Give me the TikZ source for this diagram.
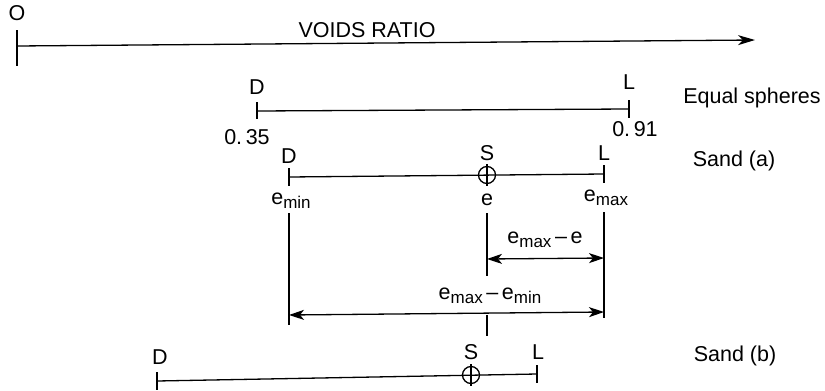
\documentclass[tikz,border=0pt]{standalone}
\usepackage{fontspec}
\setmainfont{Liberation Sans}
\usetikzlibrary{arrows.meta}
\newcommand{\lowsub}[1]{\raisebox{-0.35ex}{\fontsize{17}{19}\selectfont #1}}
\tikzset{
  lbl/.style={inner sep=0pt, font=\fontsize{21.5}{25}\selectfont},
  ln/.style={line width=1.3pt},
  dim/.style={line width=1.3pt, {Stealth[length=15pt,width=10pt,inset=4pt]}-{Stealth[length=15pt,width=10pt,inset=4pt]}},
}
\begin{document}
\begin{tikzpicture}[x=1pt,y=-1pt]
\useasboundingbox (0,0) rectangle (825,391);
% main axis
\coordinate (o) at (17,46);
\coordinate (oend) at (755,40);
\node[lbl] (O) at (17,13) {O};
\node[lbl] (vr) at (367,30) {VOIDS RATIO};
\draw[ln] (17,30) -- (17,66);
\draw[ln,-{Stealth[length=17pt,width=10pt,inset=5pt]}] (o) -- (oend);
% Equal spheres
\coordinate (esD) at (257,111);
\coordinate (esL) at (629,109);
\draw[ln] (esD) -- (esL);
\draw[ln] (257,102) -- (257,119);
\draw[ln] (629,100) -- (629,118);
\node[lbl] (esDl) at (257,87) {D};
\node[lbl] (esLl) at (629,82) {L};
\node[lbl] (es) at (752,98) {Equal spheres};
\node[lbl] (v35) at (247,137) {0.\,35};
\node[lbl] (v91) at (635,129) {0.\,91};
% Sand (a)
\coordinate (aD) at (289,177);
\coordinate (aS) at (487,175);
\coordinate (aL) at (604,174);
\draw[ln] (aD) -- (aL);
\draw[ln] (289,168) -- (289,186);
\draw[ln] (604,165) -- (604,183);
\draw[ln] (aS) circle (8.5);
\draw[ln] (487,164) -- (487,186);
\node[lbl] (aDl) at (289,156) {D};
\node[lbl] (aSl) at (487,153) {S};
\node[lbl] (aLl) at (604,153) {L};
\node[lbl] (sa) at (734,161) {Sand (a)};
\node[lbl] (emin) at (291,201) {e\lowsub{min}};
\node[lbl] (e) at (487,200) {e};
\node[lbl] (emax) at (606,198) {e\lowsub{max}};
% vertical lines
\draw[ln] (289,213) -- (289,325);
\draw[ln] (487,213) -- (487,276);
\draw[ln] (604,212) -- (604,318);
\coordinate (d1l) at (487,259);
\coordinate (d1r) at (604,258);
\draw[dim] (d1l) -- (d1r);
\node[lbl] (d1) at (545,240) {e\lowsub{max}\,{\textendash}\,e};
\coordinate (d2l) at (289,315);
\coordinate (d2r) at (604,312);
\draw[dim] (d2l) -- (d2r);
\node[lbl] (d2) at (490,296) {e\lowsub{max}\,{\textendash}\,e\lowsub{min}};
\draw[ln] (487,315) -- (487,336);
% Sand (b)
\coordinate (bD) at (157,381);
\coordinate (bS) at (471,375);
\coordinate (bL) at (537,374);
\draw[ln] (bD) -- (bL);
\draw[ln] (157,372) -- (157,390);
\draw[ln] (537,365) -- (537,383);
\draw[ln] (bS) circle (8.5);
\draw[ln] (471,364) -- (471,386);
\node[lbl] (bDl) at (160,357) {D};
\node[lbl] (bSl) at (471,352) {S};
\node[lbl] (bLl) at (538,352) {L};
\node[lbl] (sb) at (735,356) {Sand (b)};
\end{tikzpicture}
\end{document}
